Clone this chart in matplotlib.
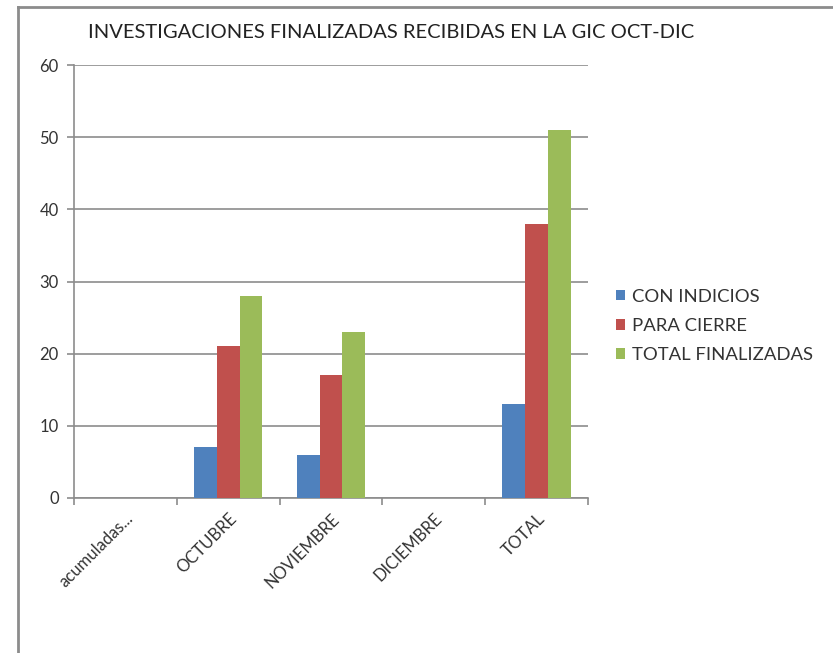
import numpy as np
import matplotlib.pyplot as plt
from matplotlib.lines import Line2D

categories = ['acumuladas...', 'OCTUBRE', 'NOVIEMBRE', 'DICIEMBRE', 'TOTAL']
con_indicios = [0, 7, 6, 0, 13]
para_cierre = [0, 21, 17, 0, 38]
total_finalizadas = [0, 28, 23, 0, 51]
series = [('CON INDICIOS', con_indicios, '#4F81BD'),
          ('PARA CIERRE', para_cierre, '#C0504D'),
          ('TOTAL FINALIZADAS', total_finalizadas, '#9BBB59')]

plt.rcParams['font.family'] = ['Lato', 'DejaVu Sans']

fig = plt.figure(figsize=(8.33, 6.53), dpi=100)
# chart frame: only top and left edges show in the reference
fy = 1 - 7/653
fx = 18/833
fig.lines.append(Line2D([fx, 1], [fy, fy], transform=fig.transFigure,
                        color='#8c8c8c', linewidth=2))
fig.lines.append(Line2D([fx, fx], [0, fy], transform=fig.transFigure,
                        color='#8c8c8c', linewidth=2))

ax = fig.add_axes([74/833, 1 - 498/653, (588 - 74)/833, (498 - 65)/653])

x = np.arange(len(categories))
w = 0.222
for i, (name, vals, col) in enumerate(series):
    ax.bar(x + (i - 1)*w, vals, w, color=col, label=name, zorder=3)

ax.set_xlim(-0.5, len(categories) - 0.5)
ax.set_ylim(0, 60)
ax.set_yticks(range(0, 61, 10))
ax.yaxis.grid(True, color='#8c8c8c', linewidth=1.2, zorder=0)
ax.set_xticks(x)
ax.set_xticklabels(categories, rotation=45, ha='right', rotation_mode='anchor',
                   fontsize=12, color='#333333')
ax.set_xticks(np.arange(-0.5, len(categories)), minor=True)
ax.tick_params(axis='x', which='major', length=0, pad=9)
ax.tick_params(axis='x', which='minor', length=5, color='#8c8c8c', width=1.2)
ax.tick_params(axis='y', length=5, color='#8c8c8c', width=1.2, labelsize=12,
               labelcolor='#333333', pad=6)
for s in ['top', 'right']:
    ax.spines[s].set_visible(False)
for s in ['left', 'bottom']:
    ax.spines[s].set_color('#8c8c8c')
    ax.spines[s].set_linewidth(1.2)

fig.text(391/833, 1 - 32/653, 'INVESTIGACIONES FINALIZADAS RECIBIDAS EN LA GIC OCT-DIC',
         ha='center', va='center', fontsize=14.5, color='#222222')

ax.legend(loc='center left', bbox_to_anchor=((616 - 74)/514, (498 - 326)/433),
          frameon=False, borderpad=0, borderaxespad=0,
          fontsize=13.3, handlelength=0.5, handleheight=0.5, handletextpad=0.35,
          labelspacing=0.72, labelcolor='#333333')

fig.savefig('out.png', dpi=100)
